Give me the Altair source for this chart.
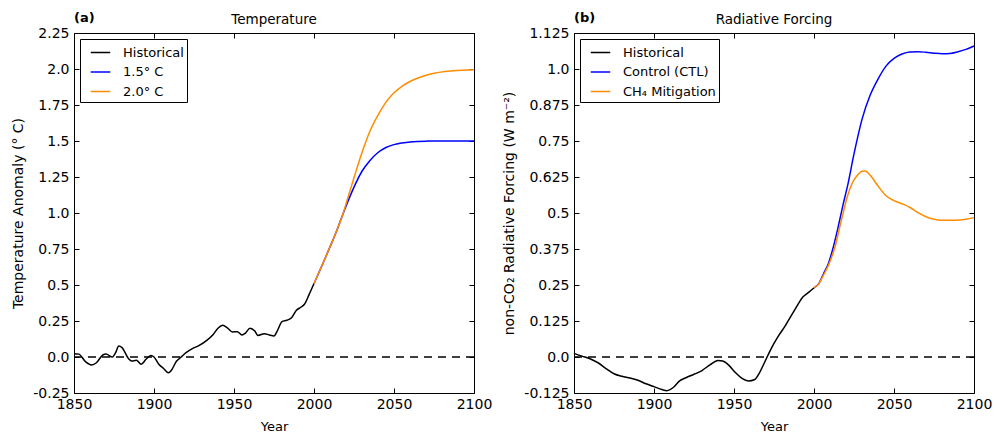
import altair as alt
import pandas as pd

# ---------------- data ----------------
year_ticks = [1850, 1900, 1950, 2000, 2050, 2100]

temp_ticks = [-0.25, 0.0, 0.25, 0.5, 0.75, 1.0, 1.25, 1.5, 1.75, 2.0, 2.25]
temp_tick_labels = ["-0.25", "0.0", "0.25", "0.5", "0.75", "1.0", "1.25", "1.5", "1.75", "2.0", "2.25"]

rf_ticks = [-0.125, 0.0, 0.125, 0.25, 0.375, 0.5, 0.625, 0.75, 0.875, 1.0, 1.125]
rf_tick_labels = ["-0.125", "0.0", "0.125", "0.25", "0.375", "0.5", "0.625", "0.75", "0.875", "1.0", "1.125"]

temp_names = ["Historical", "1.5° C", "2.0° C"]
rf_names = ["Historical", "Control (CTL)", "CH₄ Mitigation"]
series_colors = ["#000000", "#0000ff", "#ff8c00"]

temp_hist_years = [1850, 1853, 1857, 1861, 1864, 1868, 1870, 1874, 1876, 1878, 1880, 1884, 1886,
                   1889, 1892, 1895, 1898, 1900, 1903, 1906, 1909, 1911, 1914, 1917, 1920, 1924,
                   1928, 1933, 1937, 1940, 1943, 1946, 1949, 1952, 1955, 1957, 1960, 1963, 1965,
                   1969, 1972, 1975, 1977, 1980, 1983, 1986, 1989, 1992, 1994, 1997, 2000]
temp_hist_values = [0.023, 0.02, -0.03, -0.055, -0.04, 0.014, 0.02, 0.0, 0.03, 0.076, 0.065, -0.01,
                    -0.028, -0.023, -0.05, -0.016, 0.01, 0.0, -0.05, -0.08, -0.11, -0.09, -0.03, 0.0,
                    0.03, 0.058, 0.079, 0.116, 0.157, 0.2, 0.22, 0.2, 0.174, 0.176, 0.153, 0.164,
                    0.2, 0.18, 0.15, 0.162, 0.153, 0.146, 0.18, 0.245, 0.255, 0.273, 0.324, 0.347,
                    0.366, 0.435, 0.51]

temp_15_years = [2000, 2005, 2010, 2015, 2018, 2021, 2025, 2030, 2035, 2040, 2045, 2050, 2060,
                 2070, 2080, 2100]
temp_15_values = [0.51, 0.635, 0.765, 0.9, 0.99, 1.075, 1.18, 1.29, 1.365, 1.42, 1.455, 1.475,
                  1.493, 1.499, 1.5, 1.5]

temp_20_years = [2000, 2005, 2010, 2015, 2018, 2021, 2025, 2030, 2035, 2040, 2045, 2050, 2055,
                 2060, 2065, 2070, 2075, 2080, 2090, 2100]
temp_20_values = [0.51, 0.635, 0.765, 0.9, 0.99, 1.1, 1.245, 1.42, 1.57, 1.68, 1.77, 1.835, 1.88,
                  1.913, 1.937, 1.957, 1.971, 1.98, 1.99, 1.995]

rf_hist_years = [1850, 1855, 1860, 1865, 1870, 1875, 1880, 1885, 1890, 1895, 1900, 1905, 1908,
                 1912, 1916, 1920, 1925, 1930, 1935, 1940, 1943, 1947, 1951, 1955, 1959, 1963,
                 1966, 1969, 1972, 1975, 1978, 1982, 1987, 1990, 1993, 1997, 2000]
rf_hist_values = [0.0127, 0.003, -0.006, -0.02, -0.04, -0.058, -0.067, -0.073, -0.081, -0.093,
                  -0.103, -0.113, -0.117, -0.106, -0.083, -0.072, -0.06, -0.047, -0.027, -0.012,
                  -0.014, -0.03, -0.055, -0.074, -0.083, -0.078, -0.054, -0.02, 0.015, 0.047,
                  0.075, 0.108, 0.155, 0.183, 0.208, 0.226, 0.24]

rf_ctl_years = [2000, 2003, 2006, 2009, 2012, 2015, 2018, 2021, 2025, 2030, 2035, 2040, 2045,
                2050, 2055, 2060, 2065, 2070, 2075, 2080, 2085, 2090, 2095, 2100]
rf_ctl_values = [0.24, 0.255, 0.29, 0.325, 0.38, 0.449, 0.525, 0.595, 0.705, 0.825, 0.908, 0.965,
                 1.01, 1.037, 1.052, 1.059, 1.06, 1.058, 1.055, 1.053, 1.054, 1.06, 1.068, 1.08]

rf_ch4_years = [2000, 2003, 2006, 2009, 2013, 2017, 2021, 2024, 2027, 2030, 2032, 2035, 2040,
                2045, 2050, 2055, 2060, 2065, 2070, 2075, 2080, 2088, 2095, 2100]
rf_ch4_values = [0.24, 0.254, 0.285, 0.318, 0.38, 0.472, 0.56, 0.605, 0.63, 0.645, 0.646, 0.632,
                 0.594, 0.56, 0.543, 0.532, 0.519, 0.501, 0.487, 0.478, 0.475, 0.475, 0.478, 0.484]


def series_frame(names, groups):
    rows = []
    for name, (yrs, vals) in zip(names, groups):
        for y, v in zip(yrs, vals):
            rows.append({"Year": y, "Value": v, "Series": name})
    return pd.DataFrame(rows)


temp_df = series_frame(temp_names, [(temp_hist_years, temp_hist_values),
                                    (temp_15_years, temp_15_values),
                                    (temp_20_years, temp_20_values)])
rf_df = series_frame(rf_names, [(rf_hist_years, rf_hist_values),
                                (rf_ctl_years, rf_ctl_values),
                                (rf_ch4_years, rf_ch4_values)])

W, H = 400, 360
FONT = "DejaVu Sans"


def label_expr(ticks, labels):
    return ("[" + ",".join("'" + l + "'" for l in labels) + "][indexof(["
            + ",".join(repr(t) for t in ticks) + "], datum.value)]")


def panel(df, names, ticks, labels, ytitle, title, tag):
    xs = alt.Scale(domain=[year_ticks[0], year_ticks[-1]], nice=False, zero=False)
    ys = alt.Scale(domain=[ticks[0], ticks[-1]], nice=False, zero=False)
    zdf = pd.DataFrame({"x0": [year_ticks[0]], "x1": [year_ticks[-1]], "y": [0.0]})

    lines = alt.Chart(df).mark_line(strokeWidth=1.5, interpolate="monotone").encode(
        x=alt.X("Year:Q", scale=xs,
                axis=alt.Axis(values=year_ticks, format="d", title="Year", ticks=False,
                              labelPadding=4, titlePadding=9, titleFontSize=13,
                              labelFlush=False)),
        y=alt.Y("Value:Q", scale=ys,
                axis=alt.Axis(values=ticks, labelExpr=label_expr(ticks, labels), title=ytitle,
                              ticks=False, labelPadding=5, titlePadding=7, titleFontSize=14)),
        color=alt.Color("Series:N", scale=alt.Scale(domain=names, range=series_colors),
                        legend=alt.Legend(title=None, orient="top-left", offset=6,
                                          fillColor="white", strokeColor="black", padding=3,
                                          symbolType="stroke", symbolSize=380, symbolOffset=7,
                                          symbolStrokeWidth=1.5, labelOffset=12,
                                          labelFont=FONT, labelFontSize=13, labelColor="black",
                                          rowPadding=1.5)),
    )
    zero = alt.Chart(zdf).mark_rule(strokeDash=[8, 6], strokeWidth=1.5, color="black").encode(
        x=alt.X("x0:Q", scale=xs,
                axis=alt.Axis(orient="top", offset=-H, values=year_ticks, labels=False,
                              tickSize=5, title=None)),
        x2="x1:Q",
        y=alt.Y("y:Q", scale=ys,
                axis=alt.Axis(orient="right", offset=-W, values=ticks, labels=False,
                              tickSize=5, title=None)),
    )
    ghost = alt.Chart(zdf).mark_point(opacity=0).encode(
        x=alt.X("x0:Q", scale=xs,
                axis=alt.Axis(orient="bottom", offset=-H, values=year_ticks, labels=False,
                              tickSize=5, title=None)),
        y=alt.Y("y:Q", scale=ys,
                axis=alt.Axis(orient="left", offset=-W, values=ticks, labels=False,
                              tickSize=5, title=None)),
    )
    tagtext = alt.Chart(zdf).mark_text(align="left", baseline="alphabetic", font=FONT,
                                       fontSize=13, fontWeight="bold", color="black").encode(
        x=alt.value(0), y=alt.value(-11), text=alt.value(tag))
    titletext = alt.Chart(zdf).mark_text(align="center", baseline="alphabetic", font=FONT,
                                         fontSize=13.5, color="black").encode(
        x=alt.value(W / 2), y=alt.value(-9), text=alt.value(title))

    return alt.layer(lines, zero, ghost, tagtext, titletext).resolve_scale(
        x="shared", y="shared").resolve_axis(x="independent", y="independent").properties(
        width=W, height=H)


left = panel(temp_df, temp_names, temp_ticks, temp_tick_labels,
             "Temperature Anomaly (° C)", "Temperature", "(a)")
right = panel(rf_df, rf_names, rf_ticks, rf_tick_labels,
              "non-CO₂ Radiative Forcing (W m⁻²)", "Radiative Forcing", "(b)")

chart = alt.hconcat(left, right, spacing=100, bounds="flush").resolve_scale(
    color="independent").properties(
    padding={"left": 11, "top": 11, "right": 5, "bottom": 5},
    background="white").configure_view(stroke="black", strokeWidth=1).configure_axis(
    labelFont=FONT, labelFontSize=14, labelColor="black", titleFont=FONT,
    titleFontWeight="normal", titleColor="black", tickColor="black", tickWidth=1,
    grid=False, domain=False)

chart.save("out.html", embed_options={"renderer": "svg", "actions": False})
